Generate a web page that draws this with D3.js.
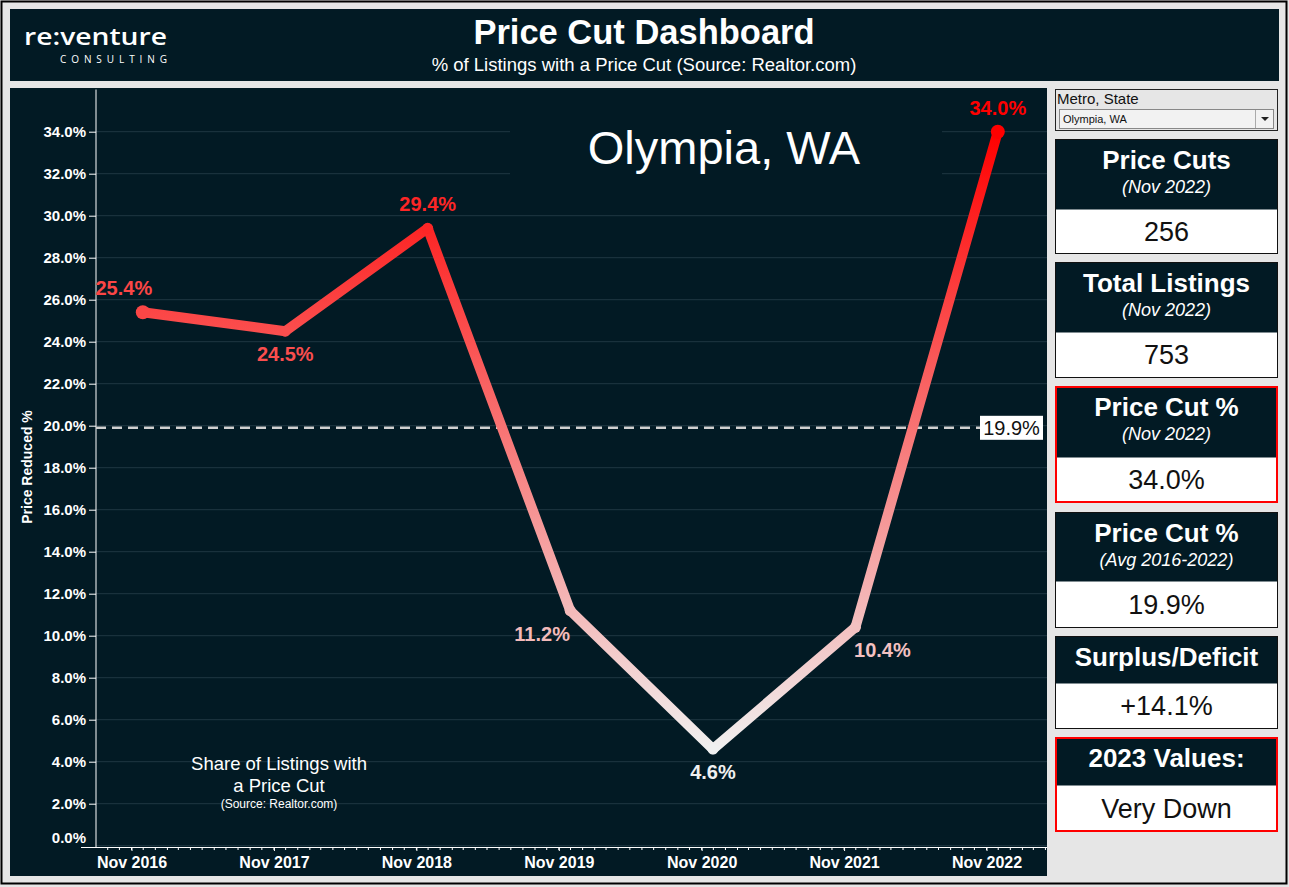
<!DOCTYPE html>
<html><head><meta charset="utf-8">
<script src="https://cdn.jsdelivr.net/npm/d3@7"></script>
<style>body{margin:0;background:#e6e6e6;} text{font-family:"Liberation Sans",Arial,sans-serif;}</style>
</head><body>
<svg id="c" width="1289" height="887"></svg>
<script>
// ---- data ----
const pointDates = ["2016-11-30","2017-11-30","2018-11-30","2019-11-30","2020-11-30","2021-11-30","2022-11-30"];
const values = [25.4, 24.5, 29.4, 11.2, 4.6, 10.4, 34.0];
const xTickDates = ["2016-11-01","2017-11-01","2018-11-01","2019-11-01","2020-11-01","2021-11-01","2022-11-01"];
const xTickLabels = ["Nov 2016","Nov 2017","Nov 2018","Nov 2019","Nov 2020","Nov 2021","Nov 2022"];
const yTickValues = [0,2,4,6,8,10,12,14,16,18,20,22,24,26,28,30,32,34];
const avgValue = 19.9;
const metroName = "Olympia, WA";
const priceCuts = 256;
const totalListings = 753;
const outlook = "Very Down";
const cardTitles = ["Price Cuts","Total Listings","Price Cut %","Price Cut %","Surplus/Deficit","2023 Values:"];
const cardSubtitles = ["(Nov 2022)","(Nov 2022)","(Nov 2022)","(Avg 2016-2022)","",""];

const parse = d3.utcParse("%Y-%m-%d");
const lastVal = values[values.length-1];
const surplus = lastVal - avgValue;
const cardValues = [String(priceCuts), String(totalListings), lastVal.toFixed(1)+"%", avgValue.toFixed(1)+"%",
  (surplus>=0?"+":"")+surplus.toFixed(1)+"%", outlook];
const cardHighlight = [false,false,true,false,false,true];

const svg = d3.select("#c");
const DARK = "#021a24";

// page frame
svg.append("rect").attr("x",1.5).attr("y",1.5).attr("width",1285).attr("height",882)
  .attr("fill","#e6e6e6").attr("stroke","#000").attr("stroke-width",2);

// header
svg.append("rect").attr("x",10).attr("y",9).attr("width",1269).attr("height",72).attr("fill",DARK);
svg.append("text").attr("x",644).attr("y",44).attr("text-anchor","middle").attr("fill","#fff")
  .attr("font-size",34.5).attr("font-weight","bold").text("Price Cut Dashboard");
svg.append("text").attr("x",644).attr("y",71).attr("text-anchor","middle").attr("fill","#fff")
  .attr("font-size",18.5).text("% of Listings with a Price Cut (Source: Realtor.com)");
svg.append("text").attr("x",24).attr("y",45).attr("fill","#fff").style("font-family","'Open Sans',sans-serif")
  .attr("font-size",24).attr("font-weight",600).attr("textLength",143).attr("lengthAdjust","spacingAndGlyphs").text("re:venture");
svg.append("text").attr("x",60).attr("y",63).attr("fill","#fff").style("font-family","'Open Sans',sans-serif")
  .attr("font-size",10).attr("textLength",107).text("CONSULTING");

// chart panel
const P = {x:10, y:88, w:1037, h:788};
svg.append("rect").attr("x",P.x).attr("y",P.y).attr("width",P.w).attr("height",P.h).attr("fill",DARK);

const x = d3.scaleUtc().domain([parse("2016-08-02"), parse("2023-04-05")]).range([96, 1047]);
const y = d3.scaleLinear().domain([0, 36]).range([845.7, 89.7]);

// gridlines
svg.append("g").selectAll("line").data(yTickValues).join("line")
  .attr("x1",96).attr("x2",1047).attr("y1",d=>y(d)).attr("y2",d=>y(d))
  .attr("stroke","#1f3843").attr("stroke-width",1);

// title box hiding gridlines
svg.append("rect").attr("x",510).attr("y",92).attr("width",432).attr("height",108).attr("fill",DARK);
svg.append("text").attr("x",724).attr("y",164).attr("text-anchor","middle").attr("fill","#fff")
  .attr("font-size",47).text(metroName);

// y axis
const yAxis = d3.axisLeft(y).tickValues(yTickValues).tickSize(7).tickPadding(3).tickFormat(d=>d.toFixed(1)+"%");
const gy = svg.append("g").attr("transform","translate(96,0)").call(yAxis);
gy.select(".domain").attr("stroke","#fff").attr("d","M0,89.5V847");
gy.selectAll(".tick line").attr("stroke","#fff");
gy.selectAll(".tick text").attr("fill","#fff").attr("font-size",15).attr("font-weight","bold")
  .style("font-family","'Liberation Sans',Arial,sans-serif")
  .attr("dy", d => d===0 ? "-0.2em" : "0.32em");
gy.selectAll(".tick").filter(d=>d===0).select("line").remove();

// x axis
const xAxis = d3.axisBottom(x).tickValues(xTickDates.map(parse)).tickSize(4).tickPadding(6)
  .tickFormat((d,i)=>xTickLabels[i]);
const gx = svg.append("g").attr("transform","translate(0,847)").call(xAxis);
gx.select(".domain").attr("stroke","#fff").attr("d","M81,0.5H1047");
gx.selectAll(".tick line").attr("stroke","#fff");
gx.selectAll(".tick text").attr("fill","#fff").attr("font-size",16).attr("font-weight","bold")
  .style("font-family","'Liberation Sans',Arial,sans-serif");
// minor monthly ticks
const months = d3.utcMonth.range(parse("2016-09-01"), parse("2023-04-05"));
svg.append("g").selectAll("line").data(months).join("line")
  .attr("x1",d=>x(d)).attr("x2",d=>x(d)).attr("y1",847).attr("y2",850).attr("stroke","#fff").attr("stroke-width",1);

// y title
svg.append("text").attr("transform","translate(32,467) rotate(-90)").attr("text-anchor","middle")
  .attr("fill","#fff").attr("font-size",14).attr("font-weight","bold").text("Price Reduced %");

// annotation
const ann = svg.append("text").attr("text-anchor","middle").attr("fill","#fff");
ann.append("tspan").attr("x",279).attr("y",770).attr("font-size",18.5).text("Share of Listings with");
ann.append("tspan").attr("x",279).attr("y",792).attr("font-size",18.5).text("a Price Cut");
ann.append("tspan").attr("x",279).attr("y",808).attr("font-size",12).text("(Source: Realtor.com)");

// average reference line
svg.append("line").attr("x1",96).attr("x2",980).attr("y1",y(avgValue)).attr("y2",y(avgValue))
  .attr("stroke","#d0d0d0").attr("stroke-width",2.5).attr("stroke-dasharray","10,6");
svg.append("rect").attr("x",980).attr("y",y(avgValue)-12).attr("width",63).attr("height",24).attr("fill","#fff");
svg.append("text").attr("x",1011.5).attr("y",y(avgValue)+7).attr("text-anchor","middle").attr("fill","#111")
  .attr("font-size",20).text(avgValue.toFixed(1)+"%");

// color scale
const vmin = d3.min(values), vmax = d3.max(values);
const color = d3.scaleLinear().domain([vmin, vmax]).range(["#f0f0f0","#ff0000"]).interpolate(d3.interpolateRgb);

const defs = svg.append("defs");
const grad = defs.append("linearGradient").attr("id","lg").attr("gradientUnits","userSpaceOnUse")
  .attr("x1",0).attr("x2",0).attr("y1",y(vmin)).attr("y2",y(vmax));
d3.range(0,1.0001,0.1).forEach(t=>{
  grad.append("stop").attr("offset",t).attr("stop-color",color(vmin + t*(vmax-vmin)));
});

const pts = pointDates.map((d,i)=>({date:parse(d), v:values[i]}));
const line = d3.line().x(d=>x(d.date)).y(d=>y(d.v));
svg.append("path").datum(pts).attr("d",line).attr("fill","none").attr("stroke","url(#lg)")
  .attr("stroke-width",10).attr("stroke-linejoin","round");
svg.append("g").selectAll("circle").data(pts).join("circle")
  .attr("cx",d=>x(d.date)).attr("cy",d=>y(d.v)).attr("r",(d,i)=>(i===0||i===pts.length-1)?7:5.5)
  .attr("fill",d=>color(d.v));

// labels
svg.append("g").selectAll("text").data(pts).join("text")
  .attr("text-anchor","middle").attr("font-size",20).attr("font-weight","bold")
  .attr("fill",d=>color(d.v))
  .each(function(d,i){
    const prev = i>0 ? pts[i-1].v : -Infinity;
    const next = i<pts.length-1 ? pts[i+1].v : -Infinity;
    const above = d.v >= prev && d.v >= next;
    let dx = 0;
    if (i===0) dx = -19;
    else if (!above && i<pts.length-1 && !(d.v<=prev && d.v<=next)) dx = (next>d.v) ? 27 : -28;
    d3.select(this).attr("x", x(d.date)+dx).attr("y", y(d.v) + (above ? -17 : 30));
  })
  .text(d=>d.v.toFixed(1)+"%");

// right panel: dropdown
svg.append("rect").attr("x",1055.5).attr("y",89.5).attr("width",222).attr("height",41).attr("fill","#e6e6e6").attr("stroke","#222");
svg.append("text").attr("x",1057).attr("y",104).attr("fill","#111").attr("font-size",15).text("Metro, State");
svg.append("rect").attr("x",1059.5).attr("y",109.5).attr("width",214).attr("height",19).attr("fill","#f2f2f2").attr("stroke","#888");
svg.append("line").attr("x1",1255.5).attr("x2",1255.5).attr("y1",110).attr("y2",128).attr("stroke","#aaa");
svg.append("text").attr("x",1063).attr("y",123).attr("fill","#111").attr("font-size",11).text(metroName);
svg.append("path").attr("d","M1261,117h8l-4,4z").attr("fill","#222");

// cards
const cardTop = [139,262,386,512,636,737];
const cardDark = [70,70,71,69,47,48];
const cardH = [114,115,116,115,92,94];
cardTitles.forEach((t,i)=>{
  const g = svg.append("g").attr("transform",`translate(1055,${cardTop[i]})`);
  g.append("rect").attr("x",0.5).attr("y",0.5).attr("width",222).attr("height",cardH[i]).attr("fill","#fff");
  g.append("rect").attr("x",0.5).attr("y",0.5).attr("width",222).attr("height",cardDark[i]).attr("fill",DARK);
  g.append("rect").attr("x",cardHighlight[i]?1:0.5).attr("y",cardHighlight[i]?1:0.5)
    .attr("width",cardHighlight[i]?221:222).attr("height",cardHighlight[i]?cardH[i]-1:cardH[i])
    .attr("fill","none").attr("stroke",cardHighlight[i]?"#ff0000":"#111").attr("stroke-width",cardHighlight[i]?2:1);
  g.append("text").attr("x",111.5).attr("y",30).attr("text-anchor","middle").attr("fill","#fff")
    .attr("font-size",26).attr("font-weight","bold").text(t);
  if (cardSubtitles[i]) g.append("text").attr("x",111.5).attr("y",54).attr("text-anchor","middle").attr("fill","#fff")
    .attr("font-size",18).attr("font-style","italic").text(cardSubtitles[i]);
  const mid = cardDark[i] + (cardH[i]-cardDark[i])/2;
  g.append("text").attr("x",111.5).attr("y",mid+9.5).attr("text-anchor","middle").attr("fill","#111")
    .attr("font-size",27).text(cardValues[i]);
});
</script>
</body></html>
